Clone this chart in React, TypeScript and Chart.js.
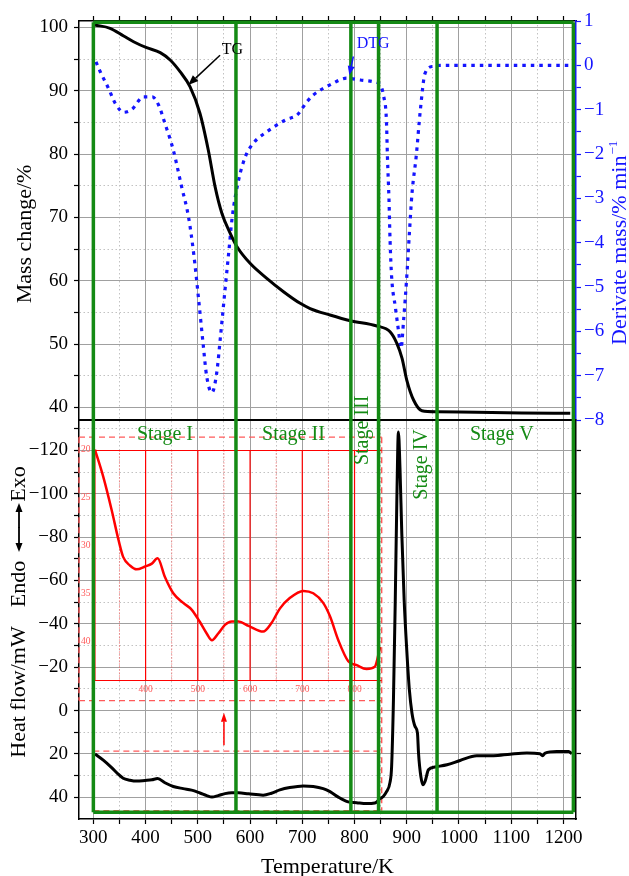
import { useEffect, useRef } from "react";
import { Chart, registerables } from "chart.js";

Chart.register(...registerables);

const SERIF = '"Liberation Serif", "Times New Roman", Times, serif';
const BLUE = "#1414ff";
const GREEN = "#148a14";
const RED = "#ff0000";
const PALE_RED = "#ff5a5a";
const MAJOR_GRID = "#a0a0a0";
const MINOR_GRID = "#c2c2c2";

// Temperature axis (K)
const T_MIN = 272.5;
const T_MAX = 1224;
const T_TICKS = [300, 350, 400, 450, 500, 550, 600, 650, 700, 750, 800, 850, 900, 950, 1000, 1050, 1100, 1150, 1200];

// TG: residual mass (%)
const TG_TEMP = [303, 332, 358, 377, 402, 428, 447, 466, 485, 504, 520, 533, 546, 562, 575, 600, 632, 664, 696, 715, 753, 792, 843, 868, 881, 891, 900, 913, 929, 958, 1034, 1120, 1213];
const TG_MASS = [100.37, 99.85, 98.63, 97.73, 96.78, 96.0, 94.84, 93.0, 90.63, 86.43, 80.63, 74.84, 70.64, 67.48, 65.36, 62.74, 60.37, 58.26, 56.42, 55.6, 54.58, 53.68, 52.84, 51.94, 50.11, 47.74, 44.31, 41.16, 39.47, 39.31, 39.21, 39.12, 39.05];
const TG_TICKS = [40, 45, 50, 55, 60, 65, 70, 75, 80, 85, 90, 95, 100];

// DTG: mass-loss rate (% min^-1)
const DTG_TEMP = [305, 313, 329, 342, 358, 374, 396, 413, 425, 437, 453, 469, 482, 492, 501, 510, 517, 527, 536, 544, 552, 559, 566, 578, 591, 606, 632, 670, 690, 709, 721, 753, 785, 811, 836, 849, 856, 861, 863, 866, 868, 871, 878, 884, 889, 894, 900, 905, 910, 918, 926, 935, 951, 970, 1050, 1130, 1213];
const DTG_RATE = [0.08, -0.14, -0.52, -0.86, -1.06, -0.99, -0.71, -0.71, -0.9, -1.31, -1.91, -2.74, -3.41, -4.24, -5.22, -6.27, -7.02, -7.38, -6.95, -6.04, -5.07, -4.24, -3.41, -2.59, -2.06, -1.76, -1.5, -1.22, -1.12, -0.82, -0.67, -0.44, -0.29, -0.33, -0.37, -0.44, -0.71, -1.23, -2.06, -3.04, -3.94, -4.77, -5.44, -5.97, -6.38, -5.74, -4.77, -3.79, -2.89, -2.06, -1.01, -0.18, -0.02, 0, 0, 0, 0];
const DTG_TICKS = [-8, -7.5, -7, -6.5, -6, -5.5, -5, -4.5, -4, -3.5, -3, -2.5, -2, -1.5, -1, -0.5, 0, 0.5, 1];

// DSC: heat flow (mW), endothermic downwards
const HF_TEMP = [303, 319, 335, 348, 357, 370, 383, 399, 412, 423, 437, 453, 472, 488, 504, 517, 527, 539, 552, 565, 578, 597, 625, 641, 657, 676, 702, 721, 740, 753, 769, 788, 804, 823, 839, 849, 855, 861, 868, 871, 874.5, 878, 881, 884, 887, 890.5, 895, 900, 905, 910, 916, 920.5, 922.5, 927, 931, 935, 941.5, 954, 977, 1002, 1034, 1066, 1098, 1130, 1155, 1160, 1165, 1187, 1210, 1216];
const HF_MW = [20.0, 22.85, 26.3, 29.4, 31.2, 32.1, 32.5, 32.2, 31.9, 31.35, 33.3, 35.0, 36.0, 36.7, 38.0, 39.2, 39.9, 39.2, 38.3, 37.95, 37.95, 38.4, 39.0, 38.1, 36.6, 35.5, 34.75, 35.0, 36.0, 37.4, 39.9, 42.1, 42.5, 42.9, 42.65, 40.6, 39.6, 37.5, 33.0, 25.8, -4.9, -51, -97, -128.5, -112, -81.6, -51, -27.9, -9.5, 1.2, 7.4, 10.4, 19.6, 30.4, 34.2, 32.7, 27.3, 26.0, 25.0, 23.0, 20.8, 20.8, 20.1, 19.6, 19.9, 20.8, 19.6, 18.9, 18.9, 19.9];
const HF_TICKS = [-130, -120, -110, -100, -90, -80, -70, -60, -50, -40, -30, -20, -10, 0, 10, 20, 30, 40];
const HF_RIGHT_TICKS = [-120, -100, -80, -60, -40, -20, 0, 20, 40];

// Decomposition stages
const STAGE_BOUNDS = [300, 573, 793, 846, 958, 1219];
const STAGE_NAMES = ["Stage I", "Stage II", "Stage III", "Stage IV", "Stage V"];
const STAGE_NAME_T = [437, 683, 826, 939, 1082];
const STAGE_NAME_HF = [-124.6, -124.6, -129.2, -113.5, -124.6];
const STAGE_NAME_UPRIGHT = [true, true, false, false, true];
const FRAME_TOP_TG = 100.8;
const FRAME_BOTTOM_HF = 46.9;

// Enlarged view of the low-temperature heat-flow curve
const INSET_WINDOW = [18.7, 46.2];
const INSET_FRAME = [-126.1, -4.6];
const INSET_T = [303, 852];
const INSET_SOURCE_T = 300;
const INSET_BOX = [20, 44];
const INSET_Y_TICKS = [20, 25, 30, 35, 40];
const INSET_X_TICKS = [400, 500, 600, 700, 800];
const INSET_X_MINOR = [350, 450, 550, 650, 750];
const INSET_ARROW = { t: 550, from: 16, to: 1 };

// Curve call-outs
const TG_NOTE = { label: [545.7, 95.8], tail: [542.5, 95.6], tip: [481.8, 90.9] };
const DTG_NOTE = { label: [804.2, 0.4], tail: [797.7, 0.2], tip: [790, -0.22] };

const toInset = (v: number) =>
  INSET_FRAME[0] + ((v - INSET_WINDOW[0]) * (INSET_FRAME[1] - INSET_FRAME[0])) / (INSET_WINDOW[1] - INSET_WINDOW[0]);

const minus = (v: number) => (v < 0 ? "\u2212" + Math.abs(v) : String(v));

const pts = (xs: number[], ys: number[]) => xs.map((x, i) => ({ x, y: ys[i] }));

function arrow(ctx: CanvasRenderingContext2D, x1: number, y1: number, x2: number, y2: number, len = 9, half = 3.5) {
  const a = Math.atan2(y2 - y1, x2 - x1);
  const bx = x2 - len * Math.cos(a);
  const by = y2 - len * Math.sin(a);
  ctx.beginPath();
  ctx.moveTo(x1, y1);
  ctx.lineTo(bx, by);
  ctx.stroke();
  ctx.beginPath();
  ctx.moveTo(x2, y2);
  ctx.lineTo(bx + half * Math.sin(a), by - half * Math.cos(a));
  ctx.lineTo(bx - half * Math.sin(a), by + half * Math.cos(a));
  ctx.closePath();
  ctx.fill();
}

function vText(ctx: CanvasRenderingContext2D, text: string, x: number, y: number, align: CanvasTextAlign = "center") {
  ctx.save();
  ctx.translate(x, y);
  ctx.rotate(-Math.PI / 2);
  ctx.textAlign = align;
  ctx.textBaseline = "alphabetic";
  ctx.fillText(text, 0, 0);
  ctx.restore();
}

const gridStyle = (isMajor: (v: number) => boolean, onArea = true, tickColor = "#000") => ({
  drawOnChartArea: onArea,
  color: (c: any) => (c.tick && !isMajor(c.tick.value) ? MINOR_GRID : MAJOR_GRID),
  lineWidth: 1,
  tickLength: 5,
  tickColor,
  tickWidth: 1.2,
});

const borderStyle = (isMajor: (v: number) => boolean, color = "#000") => ({
  color,
  width: 1.5,
  dash: (c: any) => (c.tick && !isMajor(c.tick.value) ? [1.5, 2.5] : []),
});

const setTicks = (list: number[]) => (s: any) => {
  s.ticks = list.map((value) => ({ value }));
};

const decor = {
  id: "decor",
  beforeDatasetsDraw(chart: any) {
    const { ctx } = chart;
    const x = chart.scales.x;
    const hf = chart.scales.yHF;
    const X = (t: number) => x.getPixelForValue(t);
    const H = (v: number) => hf.getPixelForValue(v);
    const U = (u: number) => H(toInset(u));
    const seg = (x1: number, y1: number, x2: number, y2: number) => {
      ctx.beginPath();
      ctx.moveTo(x1, y1);
      ctx.lineTo(x2, y2);
      ctx.stroke();
    };
    ctx.save();
    const xl = X(x.min);
    const xr = X(INSET_T[1]);
    const xs = X(INSET_SOURCE_T);
    // dashed guide boxes
    ctx.strokeStyle = PALE_RED;
    ctx.lineWidth = 1.4;
    ctx.setLineDash([6, 4]);
    seg(xl, H(INSET_FRAME[0]), xr, H(INSET_FRAME[0]));
    seg(xl, H(INSET_FRAME[1]), xr, H(INSET_FRAME[1]));
    seg(xl, H(INSET_FRAME[0]), xl, H(INSET_FRAME[1]));
    seg(xs, H(INSET_WINDOW[0]), xr, H(INSET_WINDOW[0]));
    seg(xs, H(INSET_WINDOW[1]), xr, H(INSET_WINDOW[1]));
    seg(xr, H(INSET_FRAME[0]), xr, H(INSET_WINDOW[1]));
    // inset grid
    const yt = Math.round(U(INSET_BOX[0])) + 0.5;
    const yb = Math.round(U(INSET_BOX[1])) + 0.5;
    ctx.setLineDash([1, 2]);
    ctx.lineWidth = 1;
    ctx.strokeStyle = "rgba(255,70,70,0.85)";
    INSET_X_MINOR.forEach((t) => seg(X(t), yt, X(t), yb));
    ctx.setLineDash([]);
    ctx.strokeStyle = RED;
    ctx.lineWidth = 1.2;
    INSET_X_TICKS.forEach((t) => seg(X(t), yt, X(t), yb));
    const xi = X(INSET_T[0]);
    seg(xi, yt, xr, yt);
    seg(xi, yb, xr, yb);
    seg(xi, yt, xi, yb);
    // inset tick labels
    ctx.fillStyle = PALE_RED;
    ctx.font = `9.5px ${SERIF}`;
    ctx.textAlign = "center";
    ctx.textBaseline = "middle";
    INSET_X_TICKS.forEach((t) => ctx.fillText(String(t), X(t), yb + 9));
    ctx.textAlign = "left";
    INSET_Y_TICKS.forEach((u) => ctx.fillText(String(u), xl + 2, U(u)));
    // pointer from the enlarged region
    ctx.strokeStyle = RED;
    ctx.fillStyle = RED;
    ctx.lineWidth = 1.5;
    arrow(ctx, X(INSET_ARROW.t), H(INSET_ARROW.from), X(INSET_ARROW.t), H(INSET_ARROW.to), 9, 3);
    ctx.restore();
  },
  afterDatasetsDraw(chart: any) {
    const { ctx, chartArea } = chart;
    const x = chart.scales.x;
    const hf = chart.scales.yHF;
    const tg = chart.scales.yTG;
    const dtg = chart.scales.yDTG;
    const X = (t: number) => x.getPixelForValue(t);
    const H = (v: number) => hf.getPixelForValue(v);
    ctx.save();
    // panel divider
    ctx.strokeStyle = "#000";
    ctx.lineWidth = 2;
    ctx.beginPath();
    ctx.moveTo(chartArea.left, tg.bottom);
    ctx.lineTo(chartArea.right, tg.bottom);
    ctx.stroke();
    // stage frame
    ctx.strokeStyle = GREEN;
    ctx.lineWidth = 3.5;
    const top = tg.getPixelForValue(FRAME_TOP_TG);
    const bottom = H(FRAME_BOTTOM_HF);
    STAGE_BOUNDS.forEach((t) => {
      ctx.beginPath();
      ctx.moveTo(X(t), top);
      ctx.lineTo(X(t), bottom);
      ctx.stroke();
    });
    const first = X(STAGE_BOUNDS[0]);
    const last = X(STAGE_BOUNDS[STAGE_BOUNDS.length - 1]);
    ctx.beginPath();
    ctx.moveTo(first, top);
    ctx.lineTo(last, top);
    ctx.moveTo(first, bottom);
    ctx.lineTo(last, bottom);
    ctx.stroke();
    // stage names
    ctx.fillStyle = GREEN;
    ctx.font = `20px ${SERIF}`;
    STAGE_NAMES.forEach((name, i) => {
      const px = X(STAGE_NAME_T[i]);
      const py = H(STAGE_NAME_HF[i]);
      if (STAGE_NAME_UPRIGHT[i]) {
        ctx.textAlign = "center";
        ctx.textBaseline = "alphabetic";
        ctx.fillText(name, px, py);
      } else {
        vText(ctx, name, px, py);
      }
    });
    // curve call-outs
    ctx.font = `16px ${SERIF}`;
    ctx.textAlign = "left";
    ctx.textBaseline = "alphabetic";
    ctx.fillStyle = "#000";
    ctx.strokeStyle = "#000";
    ctx.lineWidth = 1.5;
    ctx.fillText("TG", X(TG_NOTE.label[0]), tg.getPixelForValue(TG_NOTE.label[1]));
    arrow(ctx, X(TG_NOTE.tail[0]), tg.getPixelForValue(TG_NOTE.tail[1]), X(TG_NOTE.tip[0]), tg.getPixelForValue(TG_NOTE.tip[1]), 10, 4);
    ctx.fillStyle = BLUE;
    ctx.strokeStyle = BLUE;
    ctx.fillText("DTG", X(DTG_NOTE.label[0]), dtg.getPixelForValue(DTG_NOTE.label[1]));
    arrow(ctx, X(DTG_NOTE.tail[0]), dtg.getPixelForValue(DTG_NOTE.tail[1]), X(DTG_NOTE.tip[0]), dtg.getPixelForValue(DTG_NOTE.tip[1]), 9, 3.5);
    ctx.restore();
  },
  afterDraw(chart: any) {
    const { ctx, chartArea } = chart;
    ctx.save();
    ctx.font = `22px ${SERIF}`;
    ctx.fillStyle = "#000";
    vText(ctx, "Mass change/%", 31, 234);
    vText(ctx, "Heat flow/mW", 25, 692);
    vText(ctx, "Endo", 25, 584);
    vText(ctx, "Exo", 25, 484);
    ctx.strokeStyle = "#000";
    ctx.lineWidth = 1.8;
    arrow(ctx, 19, 528, 19, 503, 9, 3.5);
    arrow(ctx, 19, 527, 19, 552, 9, 3.5);
    ctx.textAlign = "center";
    ctx.textBaseline = "alphabetic";
    ctx.fillText("Temperature/K", (chartArea.left + chartArea.right) / 2, 873);
    ctx.fillStyle = BLUE;
    vText(ctx, "Derivate mass/% min", 626, 345, "left");
    const w = ctx.measureText("Derivate mass/% min").width;
    ctx.font = `13px ${SERIF}`;
    vText(ctx, "\u22121", 617, 345 - w - 1, "left");
    ctx.restore();
  },
};

export default function App() {
  const ref = useRef<HTMLCanvasElement>(null);

  useEffect(() => {
    const canvas = ref.current;
    if (!canvas) return;
    const tickFont = { family: SERIF, size: 19 };
    const isHundred = (v: number) => v % 100 === 0;
    const isTen = (v: number) => v % 10 === 0;
    const isTwenty = (v: number) => v % 20 === 0;
    const isWhole = (v: number) => Number.isInteger(v);

    const chart = new Chart(canvas, {
      type: "line",
      data: {
        datasets: [
          {
            label: "TG",
            data: pts(TG_TEMP, TG_MASS),
            yAxisID: "yTG",
            borderColor: "#000",
            borderWidth: 3,
            pointRadius: 0,
            cubicInterpolationMode: "monotone",
          },
          {
            label: "DTG",
            data: pts(DTG_TEMP, DTG_RATE),
            yAxisID: "yDTG",
            borderColor: BLUE,
            borderWidth: 3.2,
            borderDash: [3.5, 5],
            pointRadius: 0,
            cubicInterpolationMode: "monotone",
          },
          {
            label: "Heat flow",
            data: pts(HF_TEMP, HF_MW),
            yAxisID: "yHF",
            borderColor: "#000",
            borderWidth: 3,
            pointRadius: 0,
            cubicInterpolationMode: "monotone",
          },
          {
            label: "Heat flow (enlarged)",
            data: HF_TEMP.map((t, i) => ({ t, v: HF_MW[i] }))
              .filter((p) => p.t <= INSET_T[1] - 3)
              .map((p) => ({ x: p.t, y: toInset(p.v) })),
            yAxisID: "yHF",
            borderColor: RED,
            borderWidth: 2.5,
            pointRadius: 0,
            cubicInterpolationMode: "monotone",
          },
        ],
      },
      options: {
        responsive: false,
        devicePixelRatio: 1,
        animation: false,
        events: [],
        layout: { padding: 0 },
        plugins: { legend: { display: false }, tooltip: { enabled: false } },
        scales: {
          x: {
            type: "linear",
            position: "bottom",
            min: T_MIN,
            max: T_MAX,
            afterBuildTicks: setTicks(T_TICKS),
            afterFit: (s: any) => {
              s.height = 57;
            },
            ticks: {
              autoSkip: false,
              maxRotation: 0,
              color: "#000",
              font: tickFont,
              padding: 3,
              callback: (v: any) => (isHundred(Number(v)) ? String(v) : ""),
            },
            grid: gridStyle(isHundred),
            border: borderStyle(isHundred),
          },
          xTop: {
            type: "linear",
            position: "top",
            min: T_MIN,
            max: T_MAX,
            afterBuildTicks: setTicks(T_TICKS),
            afterFit: (s: any) => {
              s.height = 21;
            },
            ticks: { display: false },
            grid: gridStyle(isHundred, false),
            border: { color: "#000", width: 1.5 },
          },
          yTG: {
            type: "linear",
            position: "left",
            stack: "panels",
            weight: 1,
            min: 38,
            max: 101,
            afterBuildTicks: setTicks(TG_TICKS),
            afterFit: (s: any) => {
              s.width = 79;
            },
            ticks: {
              autoSkip: false,
              color: "#000",
              font: tickFont,
              padding: 6,
              callback: (v: any) => (isTen(Number(v)) ? minus(Number(v)) : ""),
            },
            grid: gridStyle(isTen),
            border: borderStyle(isTen),
          },
          yHF: {
            type: "linear",
            position: "left",
            stack: "panels",
            weight: 0,
            reverse: true,
            min: -134,
            max: 50,
            afterBuildTicks: setTicks(HF_TICKS),
            afterFit: (s: any) => {
              s.width = 79;
            },
            ticks: {
              autoSkip: false,
              color: "#000",
              font: tickFont,
              padding: 6,
              callback: (v: any) => (isTwenty(Number(v)) ? minus(Number(v)) : ""),
            },
            grid: gridStyle(isTwenty),
            border: borderStyle(isTwenty),
          },
          yDTG: {
            type: "linear",
            position: "right",
            stack: "panels",
            weight: 0,
            min: -8,
            max: 1,
            afterBuildTicks: setTicks(DTG_TICKS),
            afterFit: (s: any) => {
              s.width = 53;
            },
            ticks: {
              autoSkip: false,
              color: BLUE,
              font: tickFont,
              padding: 3,
              callback: (v: any) => (isWhole(Number(v)) ? minus(Number(v)) : ""),
            },
            grid: gridStyle(isWhole, false, BLUE),
            border: { color: BLUE, width: 1.5 },
          },
          yRB: {
            type: "linear",
            position: "right",
            stack: "panels",
            weight: 1,
            reverse: true,
            min: -134,
            max: 50,
            afterBuildTicks: setTicks(HF_RIGHT_TICKS),
            afterFit: (s: any) => {
              s.width = 53;
            },
            ticks: { display: false },
            grid: gridStyle(isTwenty, false),
            border: { color: "#000", width: 1.5 },
          },
        },
      } as any,
      plugins: [decor],
    });
    return () => chart.destroy();
  }, []);

  return (
    <div style={{ position: "absolute", left: 0, top: 0, width: 629, height: 876, background: "#fff" }}>
      <canvas ref={ref} width={629} height={876} style={{ display: "block", width: 629, height: 876 }} />
    </div>
  );
}
